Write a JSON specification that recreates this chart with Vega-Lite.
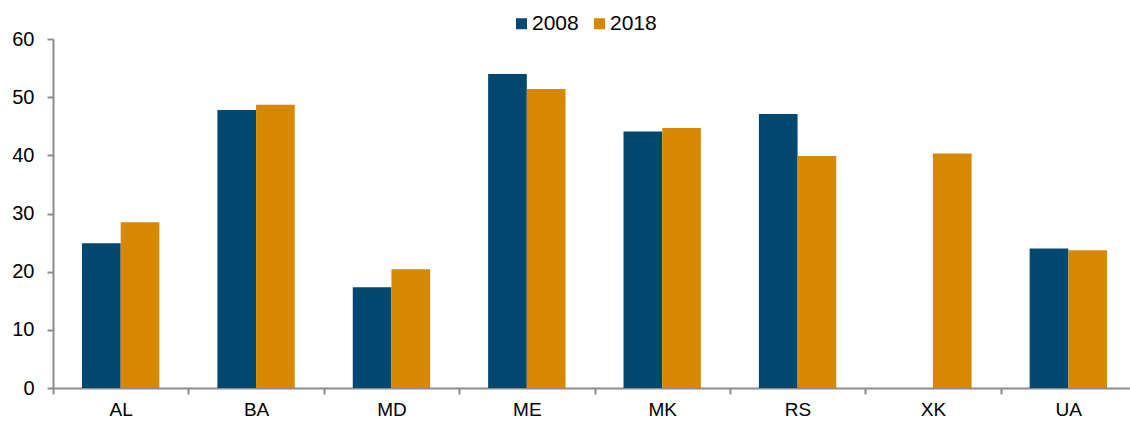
{
  "$schema": "https://vega.github.io/schema/vega-lite/v6.json",
  "width": 1083,
  "height": 349,
  "autosize": "none",
  "padding": {"left": 53, "top": 39, "right": 0, "bottom": 33},
  "background": "white",
  "config": {
    "view": {"stroke": null},
    "font": "Liberation Sans"
  },
  "data": {
    "values": [
      {"country": "AL", "year": "2008", "value": 24.9},
      {"country": "AL", "year": "2018", "value": 28.5},
      {"country": "BA", "year": "2008", "value": 47.8},
      {"country": "BA", "year": "2018", "value": 48.7},
      {"country": "MD", "year": "2008", "value": 17.3},
      {"country": "MD", "year": "2018", "value": 20.4},
      {"country": "ME", "year": "2008", "value": 54.0},
      {"country": "ME", "year": "2018", "value": 51.4},
      {"country": "MK", "year": "2008", "value": 44.1},
      {"country": "MK", "year": "2018", "value": 44.7},
      {"country": "RS", "year": "2008", "value": 47.1},
      {"country": "RS", "year": "2018", "value": 39.9},
      {"country": "XK", "year": "2018", "value": 40.3},
      {"country": "UA", "year": "2008", "value": 24.0},
      {"country": "UA", "year": "2018", "value": 23.7}
    ]
  },
  "mark": {"type": "bar"},
  "encoding": {
    "x": {
      "field": "country",
      "type": "nominal",
      "sort": ["AL", "BA", "MD", "ME", "MK", "RS", "XK", "UA"],
      "scale": {"paddingInner": 0, "paddingOuter": 0},
      "axis": {
        "title": null,
        "labelAngle": 0,
        "labelFontSize": 19,
        "labelColor": "#000000",
        "labelPadding": 6,
        "domainColor": "#8c8c8c",
        "domainWidth": 2,
        "tickColor": "#8c8c8c",
        "tickWidth": 2,
        "tickSize": 6,
        "tickBand": "extent"
      }
    },
    "xOffset": {
      "field": "year",
      "type": "nominal",
      "scale": {"paddingInner": 0, "paddingOuter": 0.75}
    },
    "y": {
      "field": "value",
      "type": "quantitative",
      "scale": {"domain": [0, 60]},
      "axis": {
        "title": null,
        "values": [0, 10, 20, 30, 40, 50, 60],
        "grid": false,
        "labelFontSize": 20,
        "labelColor": "#000000",
        "labelPadding": 13,
        "domainColor": "#8c8c8c",
        "domainWidth": 2,
        "tickColor": "#8c8c8c",
        "tickWidth": 2,
        "tickSize": 6
      }
    },
    "color": {
      "field": "year",
      "type": "nominal",
      "scale": {"domain": ["2008", "2018"], "range": ["#00486F", "#D68800"]},
      "legend": {
        "title": null,
        "orient": "none",
        "direction": "horizontal",
        "legendX": 458,
        "legendY": -26,
        "symbolType": "square",
        "symbolSize": 121,
        "symbolOpacity": 1,
        "symbolStrokeWidth": 0,
        "labelFontSize": 21,
        "labelColor": "#000000",
        "labelOffset": 0,
        "columnPadding": 10
      }
    }
  }
}
